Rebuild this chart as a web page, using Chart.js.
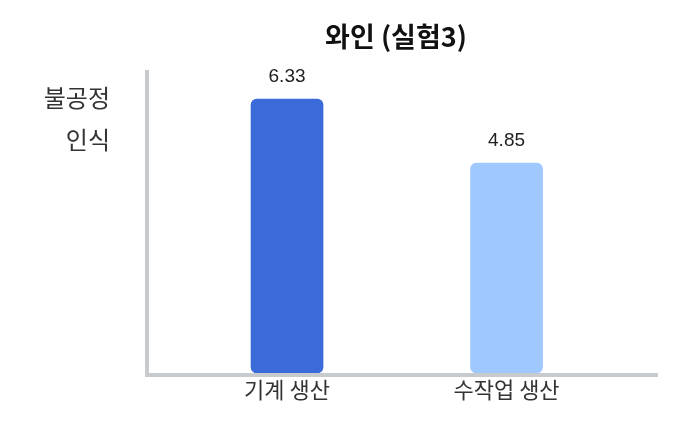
<!DOCTYPE html>
<html><head><meta charset="utf-8">
<script src="https://cdn.jsdelivr.net/npm/chart.js@4.4.1/dist/chart.umd.min.js"></script>
<style>html,body{margin:0;padding:0;background:#fff}#wrap{width:688px;height:429px}</style>
</head><body><div id="wrap"><canvas id="c"></canvas></div>
<script>
// ─── DATA ────────────────────────────────────────────────────
const titleText='와인 (실험3)';
const yLabel=['불공정','인식'];
const cats=['기계 생산','수작업 생산'];
const vals=[6.33,4.85];
const barCols=['#3a6bd8','#9ec8ff'];

const KR='"Noto Sans CJK KR","Noto Sans",sans-serif';
const AX='#c8cbce';

// axes, labels, title — drawn on top of the plain chart area
Chart.register({id:'deco',
  afterDatasetsDraw(chart){
    const{ctx,chartArea:a,scales:{x,y}}=chart;
    ctx.save();
    // axis lines
    ctx.strokeStyle=AX;ctx.lineWidth=4;ctx.lineCap='butt';
    ctx.beginPath();ctx.moveTo(a.left,a.top);ctx.lineTo(a.left,a.bottom+2);ctx.lineTo(a.right,a.bottom+2);ctx.stroke();
    // value labels
    const meta=chart.getDatasetMeta(0);
    ctx.textAlign='center';ctx.textBaseline='middle';
    ctx.fillStyle='#222';ctx.font='19px "Liberation Sans",Arial,sans-serif';
    meta.data.forEach((b,i)=>ctx.fillText(vals[i].toFixed(2),b.x,b.y-22));
    // category labels
    ctx.fillStyle='#333';ctx.font='22px '+KR;
    cats.forEach((c,i)=>ctx.fillText(c,x.getPixelForValue(i),a.bottom+17));
    // y title
    ctx.textAlign='right';ctx.font='24px '+KR;
    yLabel.forEach((t,i)=>ctx.fillText(t,a.left-37,a.top+28+i*42));
    // title
    ctx.textAlign='center';ctx.fillStyle='#111';ctx.font='bold 27px '+KR;
    ctx.fillText(titleText,396,37);
    ctx.restore();
  }
});

new Chart(document.getElementById('c'),{
  type:'bar',
  data:{datasets:[{data:vals.map((v,i)=>({x:i,y:v})),backgroundColor:barCols,
    barThickness:72,borderRadius:6,borderSkipped:false,borderWidth:0}]},
  options:{responsive:true,maintainAspectRatio:false,animation:false,
    layout:{padding:{left:147,top:70,right:30,bottom:56}},
    plugins:{legend:{display:false},tooltip:{enabled:false}},
    scales:{
      x:{type:'linear',display:false,offset:false,min:-0.638,max:1.69},
      y:{display:false,min:0,max:7}
    }}
});
</script></body></html>
